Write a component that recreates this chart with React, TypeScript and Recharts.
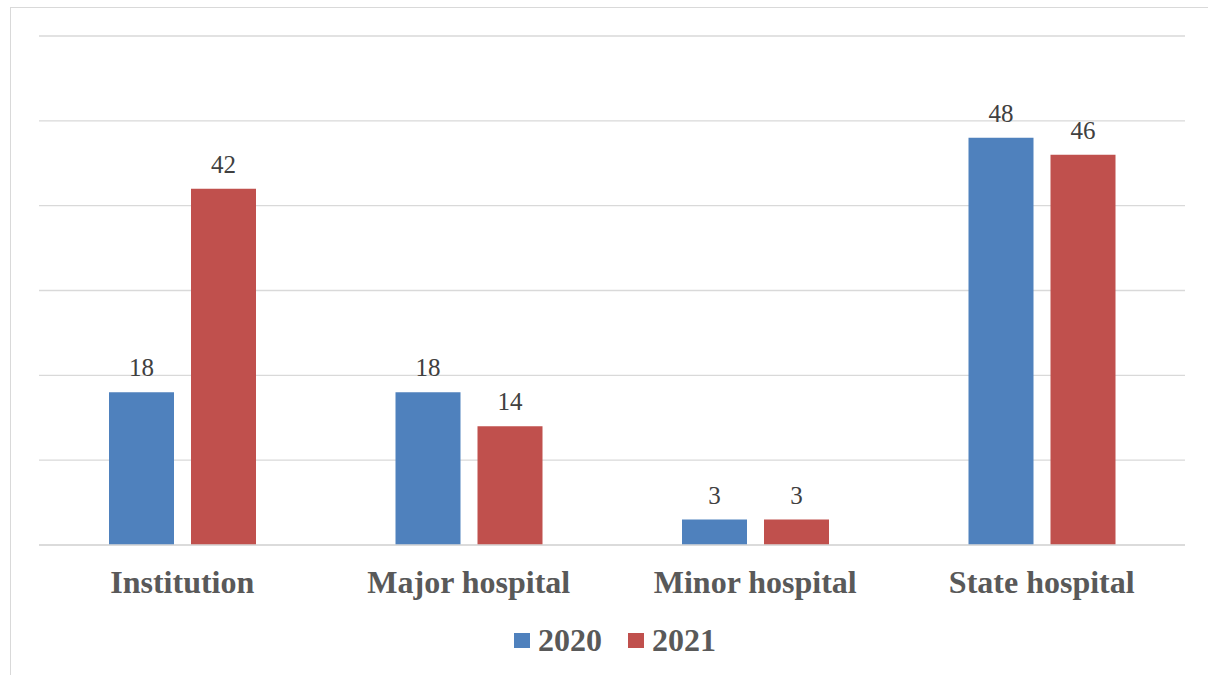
import React from "react";
import { BarChart, Bar, XAxis, YAxis, CartesianGrid, LabelList, Legend } from "recharts";

const categories = ["Institution", "Major hospital", "Minor hospital", "State hospital"];
const values2020 = [18, 18, 3, 48];
const values2021 = [42, 14, 3, 46];
const yTicks = [0, 10, 20, 30, 40, 50, 60];
const seriesNames = ["2020", "2021"];
const seriesColors = ["#4F81BD", "#C0504D"];

const data = categories.map((c, i) => ({ name: c, y2020: values2020[i], y2021: values2021[i] }));

const FONT = "'Liberation Serif', serif";

const CategoryTick = (props: any) => {
  const { x, y, payload } = props;
  return (
    <text x={x} y={y + 48} textAnchor="middle" fill="#595959" fontFamily={FONT} fontWeight="bold" fontSize={32}>
      {payload.value}
    </text>
  );
};

const LegendContent = () => (
  <div style={{ display: "flex", alignItems: "center" }}>
    {seriesNames.map((n, i) => (
      <div key={n} style={{ display: "flex", alignItems: "center", marginRight: i === 0 ? 26 : 0 }}>
        <span style={{ display: "inline-block", width: 16, height: 15, background: seriesColors[i], marginRight: 8 }} />
        <span style={{ fontFamily: FONT, fontWeight: "bold", fontSize: 32, lineHeight: "32px", color: "#595959" }}>{n}</span>
      </div>
    ))}
  </div>
);

export default function App() {
  return (
    <div style={{ position: "absolute", left: 0, top: 0, width: 1208, height: 675, overflow: "hidden", background: "#fff" }}>
      <div style={{ position: "absolute", left: 10, top: 7, width: 1300, height: 800, border: "1px solid #d9d9d9", boxSizing: "border-box" }} />
      <div style={{ position: "absolute", left: 0, top: 0 }}>
        <BarChart width={1208} height={675} data={data} margin={{ top: 36, right: 23, left: 39, bottom: 0 }} barSize={65} barGap={17}>
          <CartesianGrid vertical={false} stroke="#d9d9d9" strokeWidth={1.3} />
          <YAxis hide domain={[0, 60]} ticks={yTicks} />
          <XAxis
            dataKey="name"
            height={130}
            axisLine={{ stroke: "#d9d9d9", strokeWidth: 1.3 }}
            tickLine={false}
            tickSize={0}
            tickMargin={0}
            tick={<CategoryTick />}
            interval={0}
          />
          <Legend
            layout="horizontal"
            verticalAlign="middle"
            align="center"
            content={<LegendContent />}
            wrapperStyle={{ position: "absolute", left: 514, top: 624, width: "auto" }}
          />
          <Bar dataKey="y2020" name="2020" fill={seriesColors[0]} isAnimationActive={false}>
            <LabelList dataKey="y2020" position="top" offset={16} fill="#404040" fontSize={25} fontFamily={FONT} />
          </Bar>
          <Bar dataKey="y2021" name="2021" fill={seriesColors[1]} isAnimationActive={false}>
            <LabelList dataKey="y2021" position="top" offset={16} fill="#404040" fontSize={25} fontFamily={FONT} />
          </Bar>
        </BarChart>
      </div>
    </div>
  );
}
